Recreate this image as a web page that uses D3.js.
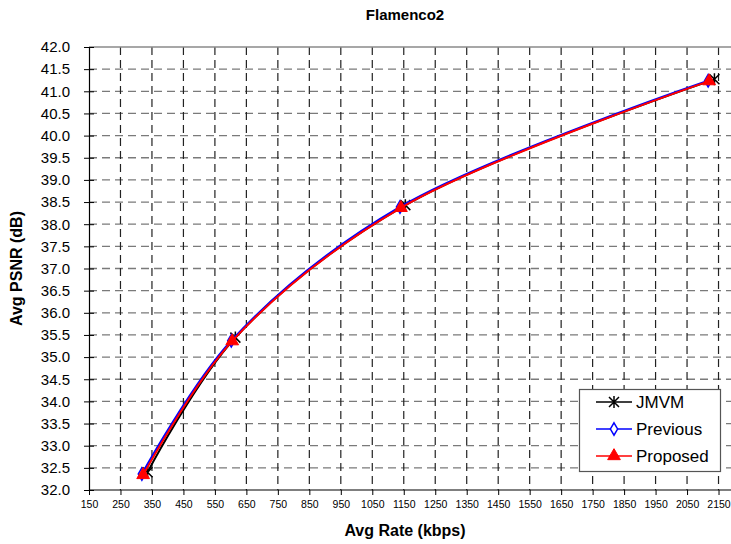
<!DOCTYPE html>
<html>
<head>
<meta charset="utf-8">
<script src="https://cdn.jsdelivr.net/npm/d3@7"></script>
<style>
  body { margin: 0; background: #fff; }
  svg { display: block; font-family: "Liberation Sans", Arial, sans-serif; }
</style>
</head>
<body>
<svg id="chart" width="731" height="544"></svg>
<script>
// ── Datos ────────────────────────────────────────────────────────
const SERIES_NAMES = ["JMVM", "Previous", "Proposed"];
const JMVM_RATE     = [336, 615, 1155, 2137];
const JMVM_PSNR     = [32.40, 35.44, 38.43, 41.27];
const PREVIOUS_RATE = [318, 602, 1138, 2117];
const PREVIOUS_PSNR = [32.36, 35.37, 38.39, 41.24];
const PROPOSED_RATE = [322, 605, 1141, 2120];
const PROPOSED_PSNR = [32.34, 35.36, 38.37, 41.23];
const X_TICKS = d3.range(150, 2151, 100);
const Y_TICKS = d3.range(32, 42.01, 0.5);

// ── Escalas ──────────────────────────────────────────────────────
const W = 731, H = 544;
const x = d3.scaleLinear().domain([150, 2250]).range([89, 750]);
const y = d3.scaleLinear().domain([32, 42]).range([490, 47]);

const svg = d3.select("#chart");

// ── Rejilla ──────────────────────────────────────────────────────
svg.append("g").selectAll("line")
  .data(Y_TICKS.slice(1, -1))
  .join("line")
  .attr("x1", x(150)).attr("x2", W)
  .attr("y1", d => y(d)).attr("y2", d => y(d))
  .attr("stroke", "#7a7a7a").attr("stroke-width", 1.3)
  .attr("stroke-dasharray", "8,5");

svg.append("g").selectAll("line")
  .data(X_TICKS.slice(1))
  .join("line")
  .attr("x1", d => x(d)).attr("x2", d => x(d))
  .attr("y1", y(42)).attr("y2", y(32))
  .attr("stroke", "#222").attr("stroke-width", 1.2)
  .attr("stroke-dasharray", "8,5");

// borde superior del área
svg.append("line")
  .attr("x1", x(150)).attr("x2", W)
  .attr("y1", y(42)).attr("y2", y(42))
  .attr("stroke", "#8a8a8a").attr("stroke-width", 1.5);

// ── Ejes ─────────────────────────────────────────────────────────
const yAxis = d3.axisLeft(y).tickValues(Y_TICKS).tickFormat(d3.format(".1f"))
  .tickSizeInner(5).tickSizeOuter(0).tickPadding(14);
const gy = svg.append("g").attr("transform", `translate(${x(150)},0)`).call(yAxis);
gy.selectAll("line").attr("x2", -5).attr("x1", 5).attr("stroke", "#000");
gy.select(".domain").attr("stroke", "#000").attr("stroke-width", 1.2);
gy.selectAll("text").attr("font-size", 15).attr("fill", "#000")
  .attr("font-family", "Liberation Sans, Arial, sans-serif");

const xAxis = d3.axisBottom(x).tickValues(X_TICKS).tickFormat(d3.format("d"))
  .tickSizeInner(5).tickSizeOuter(0).tickPadding(6);
const gx = svg.append("g").attr("transform", `translate(0,${y(32)})`).call(xAxis);
gx.select(".domain").attr("d", `M${x(150)},0H${W}`).attr("stroke", "#000").attr("stroke-width", 1.2);
gx.selectAll("line").attr("stroke", "#000");
gx.selectAll("text").attr("font-size", 10.5).attr("fill", "#000")
  .attr("font-family", "Liberation Sans Narrow, Liberation Sans, Arial, sans-serif");

// ── Títulos ──────────────────────────────────────────────────────
svg.append("text").attr("x", 405).attr("y", 20)
  .attr("text-anchor", "middle").attr("font-size", 15).attr("font-weight", "bold")
  .text("Flamenco2");
svg.append("text").attr("x", 405).attr("y", 536)
  .attr("text-anchor", "middle").attr("font-size", 16).attr("font-weight", "bold")
  .text("Avg Rate (kbps)");
svg.append("text")
  .attr("transform", `translate(22,${(y(32) + y(42)) / 2}) rotate(-90)`)
  .attr("text-anchor", "middle").attr("font-size", 16).attr("font-weight", "bold")
  .text("Avg PSNR (dB)");

// ── Series ───────────────────────────────────────────────────────
const series = [
  { name: SERIES_NAMES[0], rate: JMVM_RATE, psnr: JMVM_PSNR, color: "#000", marker: "star" },
  { name: SERIES_NAMES[1], rate: PREVIOUS_RATE, psnr: PREVIOUS_PSNR, color: "#0000ff", marker: "diamond" },
  { name: SERIES_NAMES[2], rate: PROPOSED_RATE, psnr: PROPOSED_PSNR, color: "#ff0000", marker: "triangle" }
];

const line = d3.line().x(d => x(d[0])).y(d => y(d[1])).curve(d3.curveCatmullRom.alpha(0.5));

function drawMarker(g, type, color, cx, cy) {
  if (type === "star") {
    const r = 5;
    g.append("path")
      .attr("d", `M${cx - r},${cy - r}L${cx + r},${cy + r}M${cx - r},${cy + r}L${cx + r},${cy - r}M${cx},${cy - r - 1}L${cx},${cy + r + 1}`)
      .attr("stroke", color).attr("stroke-width", 1.5).attr("fill", "none");
  } else if (type === "diamond") {
    g.append("path")
      .attr("d", d3.symbol(d3.symbolDiamond, 45)())
      .attr("transform", `translate(${cx},${cy})`)
      .attr("fill", "#fff").attr("stroke", color).attr("stroke-width", 1.5);
  } else {
    g.append("path")
      .attr("d", d3.symbol(d3.symbolTriangle, 70)())
      .attr("transform", `translate(${cx},${cy})`)
      .attr("fill", color).attr("stroke", color).attr("stroke-width", 1);
  }
}

// línea y marcadores por serie, en orden (como Excel)
series.forEach(s => {
  const pts = s.rate.map((r, i) => [r, s.psnr[i]]);
  const g = svg.append("g");
  g.append("path").datum(pts)
    .attr("d", line).attr("fill", "none")
    .attr("stroke", s.color).attr("stroke-width", 2);
  pts.forEach(p => drawMarker(g, s.marker, s.color, x(p[0]), y(p[1])));
});

// ── Leyenda ──────────────────────────────────────────────────────
const lg = svg.append("g");
lg.append("rect").attr("x", 579.5).attr("y", 389.5).attr("width", 141).attr("height", 82)
  .attr("fill", "#fff").attr("stroke", "#555").attr("stroke-width", 1.2);
series.forEach((s, i) => {
  const ly = 402 + i * 27;
  lg.append("line").attr("x1", 596).attr("x2", 632).attr("y1", ly).attr("y2", ly)
    .attr("stroke", s.color).attr("stroke-width", 1.5);
  drawMarker(lg, s.marker, s.color, 614, ly);
  lg.append("text").attr("x", 636).attr("y", ly + 6)
    .attr("font-size", 17).text(s.name);
});
</script>
</body>
</html>
